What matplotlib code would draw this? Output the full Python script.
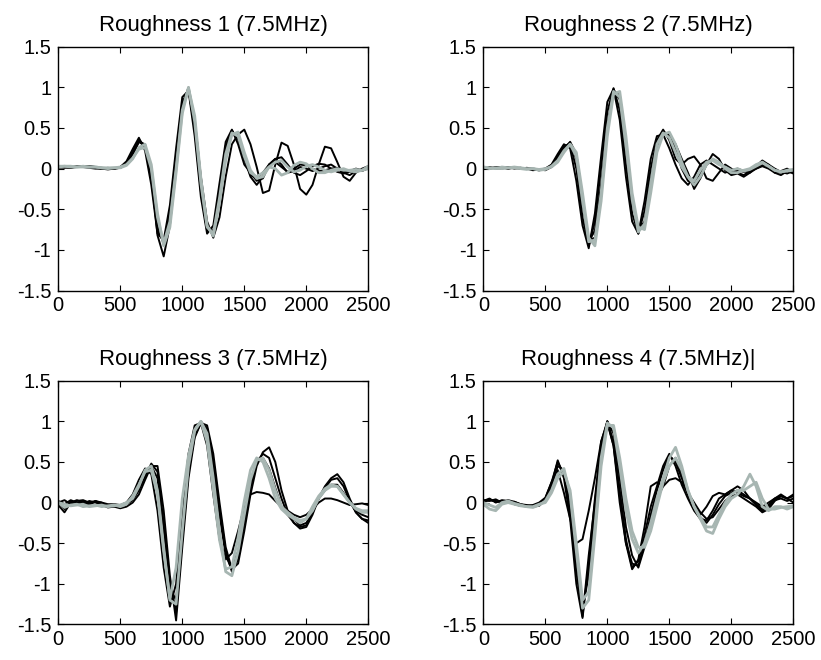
import numpy as np
import matplotlib
matplotlib.use("Agg")
import matplotlib.pyplot as plt

plt.rcParams['font.family'] = ['Liberation Sans', 'DejaVu Sans']

# sample positions of the echo traces
time = np.arange(0, 2501, 50)

# Roughness 1
r1_a = [0.02, 0.02, 0.02, 0.03, 0.03, 0.03, 0.01, 0.0, 0.0, 0.0,
        0.02, 0.07, 0.2, 0.36, 0.27, -0.12, -0.76, -0.9, -0.54, 0.11,
        0.81, 0.98, 0.48, -0.28, -0.76, -0.76, -0.27, 0.28, 0.47, 0.36,
        0.12, -0.08, -0.12, -0.05, 0.05, 0.08, 0.02, -0.04, 0.0, 0.05,
        0.04, 0.0, -0.03, -0.02, 0.0, 0.01, -0.04, -0.03, 0.0, -0.02,
        0.0]
r1_b = [0.03, 0.03, 0.02, 0.02, 0.03, 0.02, 0.02, 0.01, 0.01, 0.01,
        0.02, 0.05, 0.13, 0.24, 0.26, 0.0, -0.6, -0.92, -0.65, 0.0,
        0.72, 1.0, 0.58, -0.18, -0.72, -0.8, -0.36, 0.18, 0.44, 0.4,
        0.15, -0.05, -0.1, -0.05, 0.02, 0.0, -0.08, -0.05, 0.04, 0.08,
        0.06, 0.0, -0.05, -0.05, -0.02, 0.0, -0.02, -0.02, -0.01, -0.02,
        0.0]
r1_c = [0.01, 0.02, 0.01, 0.02, 0.02, 0.01, 0.0, 0.0, -0.01, 0.0,
        0.01, 0.06, 0.18, 0.33, 0.3, -0.05, -0.82, -1.08, -0.7, 0.05,
        0.75, 1.0, 0.6, -0.1, -0.65, -0.85, -0.6, -0.1, 0.3, 0.42,
        0.48, 0.3, 0.02, -0.3, -0.27, 0.05, 0.32, 0.28, 0.05, -0.25,
        -0.32, -0.2, 0.05, 0.27, 0.25, 0.08, -0.1, -0.15, -0.05, 0.0,
        0.03]
r1_d = [0.02, 0.01, 0.02, 0.02, 0.02, 0.03, 0.02, 0.01, 0.0, 0.0,
        0.02, 0.09, 0.24, 0.38, 0.22, -0.2, -0.8, -0.88, -0.45, 0.25,
        0.88, 0.96, 0.4, -0.35, -0.8, -0.7, -0.18, 0.33, 0.48, 0.3,
        0.05, -0.05, -0.15, -0.12, 0.05, 0.12, 0.05, -0.05, -0.03, 0.02,
        0.0, -0.03, 0.0, 0.03, 0.05, 0.0, -0.05, -0.08, -0.03, -0.02,
        0.02]
r1_e = [0.02, 0.03, 0.03, 0.02, 0.02, 0.02, 0.02, 0.01, 0.0, 0.01,
        0.01, 0.04, 0.12, 0.26, 0.3, 0.05, -0.55, -0.95, -0.72, -0.05,
        0.68, 0.99, 0.65, -0.12, -0.7, -0.83, -0.42, 0.1, 0.42, 0.45,
        0.2, -0.02, -0.12, -0.1, 0.02, 0.08, 0.1, 0.02, -0.04, -0.02,
        0.03, 0.05, 0.02, -0.02, -0.04, -0.02, 0.0, -0.03, -0.04, -0.02,
        0.03]
r1_f = [0.02, 0.02, 0.01, 0.03, 0.03, 0.03, 0.02, 0.0, 0.01, 0.0,
        0.01, 0.06, 0.17, 0.33, 0.28, -0.08, -0.7, -0.93, -0.6, 0.08,
        0.78, 0.99, 0.52, -0.25, -0.75, -0.78, -0.3, 0.25, 0.46, 0.38,
        0.12, -0.1, -0.2, -0.1, 0.05, 0.12, 0.14, 0.05, -0.05, -0.08,
        -0.03, 0.03, 0.06, 0.05, 0.0, -0.04, -0.06, -0.04, -0.02, -0.03,
        0.01]

# Roughness 2
r2_a = [0.01, 0.0, 0.02, 0.01, 0.02, 0.0, 0.01, 0.0, -0.01, -0.02,
        -0.01, 0.03, 0.12, 0.26, 0.32, 0.12, -0.45, -0.9, -0.76, -0.19,
        0.54, 0.97, 0.85, 0.23, -0.39, -0.76, -0.65, -0.13, 0.27, 0.45,
        0.4, 0.24, 0.0, -0.15, -0.18, -0.05, 0.05, 0.1, 0.08, 0.0,
        -0.03, -0.02, -0.04, -0.02, 0.02, 0.06, 0.02, -0.03, -0.05, -0.02,
        -0.04]
r2_b = [0.0, 0.02, 0.0, 0.01, 0.0, 0.02, 0.0, 0.01, 0.0, -0.01,
        0.0, 0.05, 0.18, 0.3, 0.25, -0.15, -0.7, -0.98, -0.55, 0.15,
        0.82, 0.98, 0.6, -0.1, -0.65, -0.8, -0.4, 0.12, 0.4, 0.42,
        0.25, 0.05, -0.12, -0.2, -0.1, 0.05, 0.1, 0.05, 0.0, -0.05,
        -0.02, 0.0, -0.03, -0.05, 0.0, 0.04, 0.05, 0.0, -0.04, -0.06,
        -0.03]
r2_c = [0.02, 0.01, 0.0, 0.02, 0.01, 0.01, 0.0, -0.01, 0.0, -0.01,
        0.0, 0.02, 0.08, 0.2, 0.3, 0.2, -0.3, -0.85, -0.95, -0.4,
        0.4, 0.92, 0.95, 0.4, -0.3, -0.72, -0.75, -0.3, 0.2, 0.42,
        0.45, 0.3, 0.08, -0.1, -0.2, -0.1, 0.05, 0.12, 0.08, 0.0,
        -0.05, -0.05, -0.02, 0.0, 0.05, 0.08, 0.03, -0.02, -0.04, -0.03,
        -0.02]
r2_d = [0.0, 0.01, 0.01, 0.0, 0.02, 0.01, 0.0, 0.0, -0.02, -0.01,
        -0.02, 0.02, 0.1, 0.24, 0.33, 0.18, -0.35, -0.88, -0.85, -0.28,
        0.48, 0.96, 0.9, 0.3, -0.35, -0.75, -0.7, -0.2, 0.25, 0.45,
        0.42, 0.3, 0.12, -0.05, -0.25, -0.12, 0.05, 0.18, 0.12, -0.02,
        -0.08, -0.06, -0.1, -0.05, 0.03, 0.1, 0.05, -0.05, -0.08, -0.03,
        -0.06]
r2_e = [0.01, 0.0, 0.01, 0.02, 0.0, 0.01, 0.01, 0.0, -0.01, -0.02,
        0.0, 0.04, 0.15, 0.28, 0.3, 0.0, -0.6, -0.95, -0.65, 0.02,
        0.7, 0.99, 0.72, 0.05, -0.55, -0.8, -0.52, 0.0, 0.35, 0.48,
        0.35, 0.12, 0.05, 0.12, 0.15, 0.05, -0.12, -0.15, -0.05, 0.05,
        0.0, -0.05, -0.08, -0.03, 0.0, 0.03, 0.0, -0.05, -0.03, 0.0,
        -0.05]
r2_f = [0.02, 0.0, 0.01, 0.0, 0.01, 0.02, 0.01, 0.0, 0.0, -0.02,
        -0.01, 0.03, 0.1, 0.22, 0.3, 0.15, -0.4, -0.9, -0.88, -0.3,
        0.5, 0.95, 0.88, 0.28, -0.38, -0.78, -0.68, -0.18, 0.3, 0.44,
        0.38, 0.2, 0.02, -0.1, -0.15, -0.02, 0.08, 0.1, 0.05, 0.02,
        -0.02, 0.0, -0.03, -0.01, 0.03, 0.07, 0.03, -0.02, -0.04, -0.02,
        -0.01]

# Roughness 3
r3_a = [0.0, -0.06, -0.03, -0.02, -0.05, -0.04, -0.03, -0.05, -0.04, -0.03,
        -0.05, -0.02, 0.08, 0.22, 0.38, 0.4, 0.1, -0.6, -1.18, -0.8,
        0.05, 0.58, 0.9, 1.0, 0.75, 0.15, -0.46, -0.82, -0.79, -0.43,
        0.02, 0.4, 0.55, 0.5, 0.3, 0.05, -0.08, -0.15, -0.2, -0.25,
        -0.2, -0.05, 0.08, 0.17, 0.22, 0.2, 0.1, 0.0, -0.07, -0.1,
        -0.1]
r3_b = [0.02, -0.02, 0.03, 0.0, -0.02, 0.02, 0.0, -0.03, -0.06, -0.05,
        -0.07, -0.05, 0.0, 0.1, 0.28, 0.45, 0.45, -0.1, -0.9, -1.45,
        -0.55, 0.3, 0.8, 0.98, 0.95, 0.6, 0.0, -0.55, -0.82, -0.75,
        -0.35, 0.1, 0.45, 0.62, 0.68, 0.5, 0.15, -0.1, -0.25, -0.32,
        -0.3, -0.15, 0.05, 0.2, 0.3, 0.35, 0.25, 0.05, -0.12, -0.2,
        -0.22]
r3_c = [-0.03, -0.12, 0.0, 0.03, 0.0, -0.03, 0.02, -0.02, -0.03, -0.05,
        -0.04, 0.0, 0.05, 0.18, 0.35, 0.45, 0.3, -0.35, -1.05, -1.2,
        -0.3, 0.45, 0.85, 1.0, 0.9, 0.45, -0.15, -0.65, -0.82, -0.6,
        -0.15, 0.25, 0.5, 0.55, 0.42, 0.18, -0.05, -0.15, -0.2, -0.28,
        -0.25, -0.12, 0.05, 0.15, 0.22, 0.22, 0.12, 0.0, -0.1, -0.15,
        -0.18]
r3_d = [0.0, 0.03, -0.02, 0.02, 0.03, 0.0, 0.02, 0.0, -0.02, -0.02,
        -0.03, 0.0, 0.1, 0.28, 0.42, 0.35, -0.1, -0.8, -1.28, -1.0,
        -0.1, 0.6, 0.95, 0.98, 0.7, 0.1, -0.45, -0.7, -0.62, -0.35,
        -0.05, 0.1, 0.13, 0.12, 0.1, 0.02, -0.05, -0.1, -0.15, -0.18,
        -0.15, -0.08, 0.0, 0.05, 0.05, 0.03, 0.0, -0.03, -0.02, -0.01,
        -0.03]
r3_e = [0.0, -0.02, -0.04, -0.03, -0.02, -0.05, -0.04, -0.03, -0.05, -0.04,
        -0.03, 0.0, 0.05, 0.2, 0.4, 0.45, 0.15, -0.55, -1.2, -1.25,
        -0.35, 0.45, 0.88, 1.0, 0.85, 0.3, -0.35, -0.85, -0.9, -0.6,
        -0.15, 0.28, 0.52, 0.55, 0.4, 0.15, -0.05, -0.12, -0.18, -0.22,
        -0.2, -0.1, 0.05, 0.15, 0.2, 0.2, 0.1, 0.0, -0.08, -0.12,
        -0.12]
r3_f = [0.01, -0.08, 0.02, -0.01, 0.02, -0.02, 0.01, 0.0, -0.04, -0.03,
        -0.05, -0.02, 0.03, 0.15, 0.32, 0.48, 0.38, -0.25, -1.0, -1.35,
        -0.45, 0.38, 0.82, 0.98, 0.92, 0.52, -0.08, -0.6, -0.85, -0.7,
        -0.25, 0.18, 0.5, 0.6, 0.55, 0.3, 0.05, -0.15, -0.25, -0.3,
        -0.28, -0.12, 0.05, 0.18, 0.28, 0.3, 0.2, 0.02, -0.12, -0.2,
        -0.25]

# Roughness 4
r4_a = [0.02, 0.05, 0.0, 0.03, 0.02, 0.0, -0.03, -0.05, -0.05, -0.03,
        0.05, 0.25, 0.5, 0.35, -0.1, -0.85, -1.4, -0.65, 0.0, 0.7,
        1.0, 0.7, 0.0, -0.5, -0.75, -0.78, -0.5, -0.15, 0.15, 0.4,
        0.58, 0.5, 0.3, 0.1, -0.05, -0.18, -0.25, -0.15, -0.02, 0.08,
        0.12, 0.15, 0.1, 0.05, -0.03, -0.1, -0.05, 0.03, 0.05, 0.02,
        0.05]
r4_b = [0.03, 0.02, 0.04, 0.0, 0.01, -0.02, -0.04, -0.04, -0.03, 0.0,
        0.06, 0.25, 0.4, 0.12, -0.2, -0.5, -0.45, -0.1, 0.3, 0.75,
        0.98, 0.7, 0.1, -0.5, -0.82, -0.7, -0.3, 0.2, 0.25, 0.2,
        0.45, 0.55, 0.35, 0.1, -0.05, -0.15, -0.05, 0.08, 0.12, 0.1,
        0.15, 0.2, 0.15, 0.05, 0.0, -0.05, 0.0, 0.05, 0.08, 0.05,
        0.08]
r4_c = [-0.02, -0.08, -0.1, -0.02, 0.0, -0.02, -0.04, -0.05, -0.05, -0.02,
        0.0, 0.12, 0.3, 0.38, 0.15, -0.5, -1.2, -1.1, -0.3, 0.55,
        0.98, 0.92, 0.45, -0.1, -0.45, -0.62, -0.5, -0.25, 0.05, 0.3,
        0.55, 0.68, 0.45, 0.15, -0.05, -0.2, -0.35, -0.38, -0.2, -0.05,
        0.05, 0.1, 0.2, 0.35, 0.2, -0.05, -0.1, -0.05, -0.05, -0.08,
        -0.05]
r4_d = [0.01, 0.03, 0.02, 0.0, 0.03, 0.01, -0.02, -0.04, -0.05, -0.04,
        0.03, 0.2, 0.45, 0.4, 0.0, -0.7, -1.3, -0.9, -0.1, 0.65,
        1.0, 0.85, 0.3, -0.3, -0.65, -0.8, -0.55, -0.2, 0.05, 0.2,
        0.28, 0.3, 0.25, 0.12, 0.0, -0.12, -0.2, -0.18, -0.08, 0.02,
        0.08, 0.1, 0.05, 0.0, -0.05, -0.12, -0.08, 0.02, 0.08, 0.05,
        0.0]
r4_e = [0.0, -0.03, -0.06, 0.0, 0.02, -0.01, -0.03, -0.05, -0.06, -0.03,
        0.02, 0.15, 0.35, 0.42, 0.1, -0.6, -1.3, -1.2, -0.4, 0.45,
        0.95, 0.95, 0.55, 0.05, -0.35, -0.55, -0.55, -0.35, -0.05, 0.25,
        0.45, 0.55, 0.4, 0.15, -0.05, -0.18, -0.3, -0.3, -0.15, 0.0,
        0.1, 0.15, 0.15, 0.2, 0.25, 0.05, -0.08, -0.08, -0.06, -0.05,
        -0.04]
r4_f = [0.02, 0.04, 0.01, 0.02, 0.0, 0.01, -0.02, -0.03, -0.04, -0.02,
        0.04, 0.22, 0.52, 0.3, -0.2, -1.0, -1.42, -0.75, 0.05, 0.75,
        1.0, 0.75, 0.15, -0.45, -0.8, -0.72, -0.4, -0.05, 0.2, 0.45,
        0.6, 0.45, 0.22, 0.05, -0.1, -0.2, -0.22, -0.1, 0.05, 0.1,
        0.15, 0.12, 0.08, 0.05, -0.02, -0.08, -0.03, 0.05, 0.1, 0.05,
        0.1]

titles = ["Roughness 1 (7.5MHz)", "Roughness 2 (7.5MHz)",
          "Roughness 3 (7.5MHz)", "Roughness 4 (7.5MHz)|"]
black_traces = [[r1_a, r1_d, r1_f, r1_c], [r2_a, r2_b, r2_d, r2_e],
                [r3_b, r3_c, r3_d, r3_f], [r4_a, r4_b, r4_d, r4_f]]
gray_traces = [[r1_b, r1_e], [r2_c, r2_f], [r3_a, r3_e], [r4_c, r4_e]]

xticks = [0, 500, 1000, 1500, 2000, 2500]
yticks = [-1.5, -1, -0.5, 0, 0.5, 1, 1.5]
ytick_labels = ["-1.5", "-1", "-0.5", "0", "0.5", "1", "1.5"]

gray = "#a7b6b2"

fig = plt.figure(figsize=(8.21, 6.6), dpi=100)
positions = [[0.0710, 0.5598, 0.3776, 0.3694], [0.5887, 0.5598, 0.3776, 0.3694],
             [0.0710, 0.0538, 0.3776, 0.3694], [0.5887, 0.0538, 0.3776, 0.3694]]

for i in range(4):
    ax = fig.add_axes(positions[i])
    for tr in black_traces[i]:
        ax.plot(time, tr, color="black", lw=1.4)
    for tr in gray_traces[i]:
        ax.plot(time, tr, color=gray, lw=2.0)
    ax.set_xlim(0, 2500)
    ax.set_ylim(-1.5, 1.5)
    ax.set_xticks(xticks)
    ax.set_yticks(yticks)
    ax.set_yticklabels(ytick_labels)
    ax.tick_params(direction="in", top=True, right=True, length=4, width=0.8,
                   labelsize=14.5)
    ax.tick_params(axis="y", pad=5)
    ax.tick_params(axis="x", pad=4)
    for sp in ax.spines.values():
        sp.set_linewidth(1.0)
    ax.set_title(titles[i], fontsize=16, pad=11)

fig.savefig("out.png", dpi=100)
